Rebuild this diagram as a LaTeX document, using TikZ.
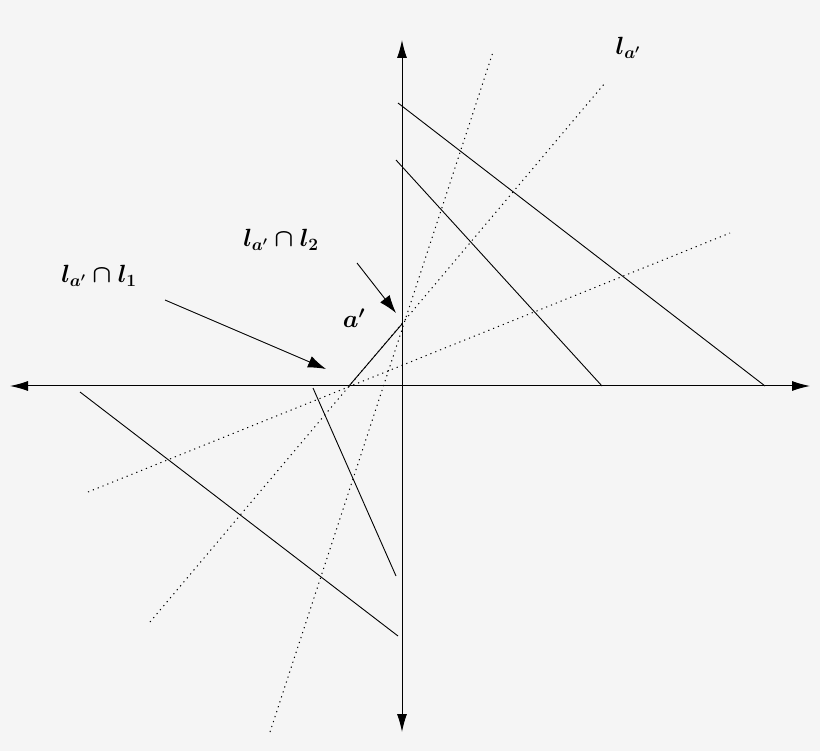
\documentclass[tikz,border=0pt]{standalone}
\usetikzlibrary{arrows.meta}
\begin{document}
\begin{tikzpicture}[x=1pt,y=-1pt,
  ax/.style={line width=1pt,{Latex[length=18pt,width=10pt]}-{Latex[length=18pt,width=10pt]}},
  sol/.style={line width=0.9pt},
  dot/.style={line width=1pt,dash pattern=on 1.2pt off 4pt},
  ptr/.style={line width=0.9pt,-{Latex[length=18pt,width=12pt]}},
  lab/.style={font=\fontsize{25}{30}\selectfont\boldmath}]
\fill[gray!8] (0,0) rectangle (820,751);
\useasboundingbox (0,0) rectangle (820,751);
\coordinate (L) at (10,386); \coordinate (R) at (810,386);
\coordinate (T) at (402,40); \coordinate (B) at (402,732);
\draw[ax] (L) -- (R);
\draw[ax] (T) -- (B);
\coordinate (s1a) at (398,103); \coordinate (s1b) at (765,386);
\coordinate (s2a) at (396,160); \coordinate (s2b) at (602,386);
\coordinate (s3a) at (80,392); \coordinate (s3b) at (398,636);
\coordinate (s4a) at (313,388); \coordinate (s4b) at (396,576);
\coordinate (pa) at (349,386); \coordinate (pb) at (402,324);
\draw[sol] (s1a)--(s1b); \draw[sol] (s2a)--(s2b);
\draw[sol] (s3a)--(s3b); \draw[sol] (s4a)--(s4b);
\draw[sol] (pa)--(pb);
\coordinate (d1a) at (270,732); \coordinate (d1b) at (493,52);
\coordinate (d2a) at (150,622); \coordinate (d2b) at (605,83);
\coordinate (d3a) at (88,492); \coordinate (d3b) at (730,233);
\draw[dot] (d1a)--(d1b); \draw[dot] (d2a)--(d2b); \draw[dot] (d3a)--(d3b);
\coordinate (p1a) at (165,300); \coordinate (p1b) at (326,369);
\coordinate (p2a) at (357,263); \coordinate (p2b) at (396,313);
\draw[ptr] (p1a)--(p1b); \draw[ptr] (p2a)--(p2b);
\node[lab] (la) at (628,48) {$l_{a'}$};
\node[lab] (l2) at (281,240) {$l_{a'}\cap l_2$};
\node[lab] (l1) at (99,276) {$l_{a'}\cap l_1$};
\node[lab] (ap) at (354,318) {$a'$};
\end{tikzpicture}
\end{document}
